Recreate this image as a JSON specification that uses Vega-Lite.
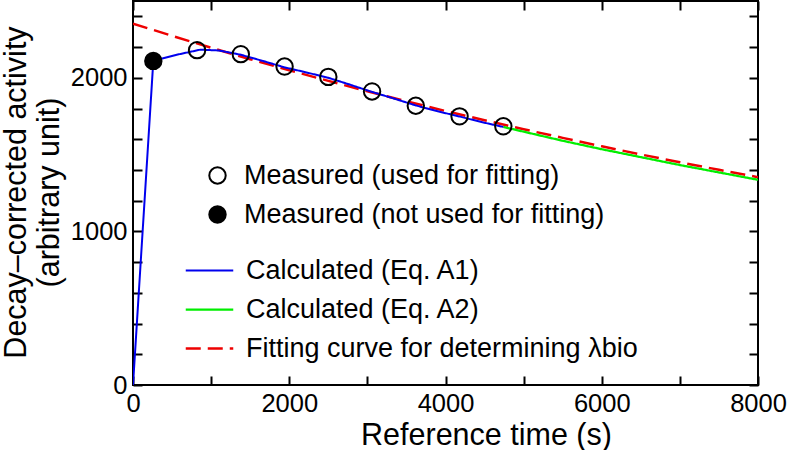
{
  "$schema": "https://vega.github.io/schema/vega-lite/v6.json",
  "width": 625,
  "height": 384,
  "autosize": "none",
  "padding": {"left": 133, "top": 1, "right": 29, "bottom": 65},
  "background": "white",
  "config": {
    "font": "Liberation Sans",
    "view": {"stroke": "black", "strokeWidth": 2},
    "axis": {
      "domain": false,
      "ticks": false,
      "tickSize": 0,
      "grid": true,
      "gridColor": "black",
      "gridOpacity": 1,
      "gridWidth": 2,
      "labelColor": "black",
      "labelFontSize": 25.5,
      "titleColor": "black",
      "titleFontSize": 30.5,
      "titleFontWeight": "normal"
    },
    "legend": {
      "orient": "none",
      "padding": 0,
      "labelFont": "Liberation Sans",
      "labelFontSize": 27,
      "labelColor": "black",
      "labelLimit": 600,
      "rowPadding": 11
    }
  },
  "datasets": {
    "curves": [
      {"t": 0, "v": 2353, "series": "Fitting curve for determining λbio"},
      {"t": 500, "v": 2273, "series": "Fitting curve for determining λbio"},
      {"t": 1000, "v": 2196, "series": "Fitting curve for determining λbio"},
      {"t": 1500, "v": 2121, "series": "Fitting curve for determining λbio"},
      {"t": 2000, "v": 2049, "series": "Fitting curve for determining λbio"},
      {"t": 2500, "v": 1980, "series": "Fitting curve for determining λbio"},
      {"t": 3000, "v": 1912, "series": "Fitting curve for determining λbio"},
      {"t": 3500, "v": 1847, "series": "Fitting curve for determining λbio"},
      {"t": 4000, "v": 1784, "series": "Fitting curve for determining λbio"},
      {"t": 4500, "v": 1724, "series": "Fitting curve for determining λbio"},
      {"t": 5000, "v": 1665, "series": "Fitting curve for determining λbio"},
      {"t": 5500, "v": 1609, "series": "Fitting curve for determining λbio"},
      {"t": 6000, "v": 1554, "series": "Fitting curve for determining λbio"},
      {"t": 6500, "v": 1501, "series": "Fitting curve for determining λbio"},
      {"t": 7000, "v": 1450, "series": "Fitting curve for determining λbio"},
      {"t": 7500, "v": 1401, "series": "Fitting curve for determining λbio"},
      {"t": 8000, "v": 1353, "series": "Fitting curve for determining λbio"},
      {"t": 4740, "v": 1680, "series": "Calculated (Eq. A2)"},
      {"t": 5500, "v": 1590, "series": "Calculated (Eq. A2)"},
      {"t": 6000, "v": 1535, "series": "Calculated (Eq. A2)"},
      {"t": 7000, "v": 1432, "series": "Calculated (Eq. A2)"},
      {"t": 8000, "v": 1336, "series": "Calculated (Eq. A2)"},
      {"t": 0, "v": 0, "series": "Calculated (Eq. A1)"},
      {"t": 260, "v": 2110, "series": "Calculated (Eq. A1)"},
      {"t": 560, "v": 2150, "series": "Calculated (Eq. A1)"},
      {"t": 860, "v": 2183, "series": "Calculated (Eq. A1)"},
      {"t": 1100, "v": 2178, "series": "Calculated (Eq. A1)"},
      {"t": 1380, "v": 2150, "series": "Calculated (Eq. A1)"},
      {"t": 1660, "v": 2110, "series": "Calculated (Eq. A1)"},
      {"t": 1940, "v": 2068, "series": "Calculated (Eq. A1)"},
      {"t": 2220, "v": 2035, "series": "Calculated (Eq. A1)"},
      {"t": 2500, "v": 2000, "series": "Calculated (Eq. A1)"},
      {"t": 2780, "v": 1955, "series": "Calculated (Eq. A1)"},
      {"t": 3060, "v": 1908, "series": "Calculated (Eq. A1)"},
      {"t": 3340, "v": 1865, "series": "Calculated (Eq. A1)"},
      {"t": 3620, "v": 1820, "series": "Calculated (Eq. A1)"},
      {"t": 3900, "v": 1782, "series": "Calculated (Eq. A1)"},
      {"t": 4180, "v": 1748, "series": "Calculated (Eq. A1)"},
      {"t": 4460, "v": 1712, "series": "Calculated (Eq. A1)"},
      {"t": 4740, "v": 1680, "series": "Calculated (Eq. A1)"}
    ],
    "measured": [
      {"t": 260, "v": 2110, "kind": "Measured (not used for fitting)"},
      {"t": 820, "v": 2180, "kind": "Measured (used for fitting)"},
      {"t": 1380, "v": 2154, "kind": "Measured (used for fitting)"},
      {"t": 1940, "v": 2073, "kind": "Measured (used for fitting)"},
      {"t": 2500, "v": 2006, "kind": "Measured (used for fitting)"},
      {"t": 3060, "v": 1911, "kind": "Measured (used for fitting)"},
      {"t": 3620, "v": 1818, "kind": "Measured (used for fitting)"},
      {"t": 4180, "v": 1749, "kind": "Measured (used for fitting)"},
      {"t": 4740, "v": 1684, "kind": "Measured (used for fitting)"}
    ]
  },
  "encoding": {
    "x": {
      "field": "t",
      "type": "quantitative",
      "scale": {"domain": [0, 8000], "nice": false},
      "axis": {
        "values": [0, 1000, 2000, 3000, 4000, 5000, 6000, 7000, 8000],
        "gridDash": [9, 366, 9, 1000],
        "labelExpr": "datum.value % 2000 == 0 ? format(datum.value, 'd') : ''",
        "labelPadding": 6,
        "labelFlush": false,
        "title": "Reference time (s)",
        "titleX": 353,
        "titleY": 59,
        "titleBaseline": "alphabetic",
        "titleAnchor": "middle"
      }
    },
    "y": {
      "field": "v",
      "type": "quantitative",
      "scale": {"domain": [0, 2500], "nice": false},
      "axis": {
        "values": [0, 200, 400, 600, 800, 1000, 1200, 1400, 1600, 1800, 2000, 2200, 2400],
        "gridDash": [9, 607, 9, 1000],
        "labelExpr": "datum.value % 1000 == 0 ? format(datum.value, 'd') : ''",
        "labelPadding": 6,
        "labelFlush": false,
        "title": ["Decay–corrected activity", "(arbitrary unit)"],
        "titleAngle": -90,
        "titleX": -108,
        "titleY": 191,
        "titleAlign": "center",
        "titleBaseline": "alphabetic",
        "titleLineHeight": 33
      }
    }
  },
  "layer": [
    {
      "data": {"name": "curves"},
      "mark": {"type": "line", "clip": true},
      "encoding": {
        "stroke": {
          "field": "series",
          "type": "nominal",
          "scale": {
            "domain": ["Calculated (Eq. A1)", "Calculated (Eq. A2)", "Fitting curve for determining λbio"],
            "range": ["#0000ee", "#00ee00", "#ee0000"]
          },
          "legend": {
            "title": null,
            "legendX": 63,
            "legendY": 256,
            "symbolType": "M-2.5,0H2.5",
            "symbolSize": 361,
            "labelOffset": 23
          }
        },
        "strokeDash": {
          "field": "series",
          "type": "nominal",
          "scale": {
            "domain": ["Calculated (Eq. A1)", "Calculated (Eq. A2)", "Fitting curve for determining λbio"],
            "range": [[1, 0], [1, 0], [15, 7]]
          },
          "legend": {
            "title": null,
            "legendX": 63,
            "legendY": 256,
            "symbolType": "M-2.5,0H2.5",
            "symbolSize": 361,
            "labelOffset": 23
          }
        },
        "strokeWidth": {
          "field": "series",
          "type": "nominal",
          "scale": {
            "domain": ["Calculated (Eq. A1)", "Calculated (Eq. A2)", "Fitting curve for determining λbio"],
            "range": [2, 2.5, 4]
          },
          "legend": {
            "title": null,
            "legendX": 63,
            "legendY": 256,
            "symbolType": "M-2.5,0H2.5",
            "symbolSize": 361,
            "labelOffset": 23
          }
        }
      }
    },
    {
      "data": {"name": "measured"},
      "mark": {"type": "point", "shape": "circle", "size": 270, "stroke": "black", "strokeWidth": 2, "opacity": 1},
      "encoding": {
        "fill": {
          "field": "kind",
          "type": "nominal",
          "scale": {
            "domain": ["Measured (used for fitting)", "Measured (not used for fitting)"],
            "range": ["transparent", "black"]
          },
          "legend": {
            "title": null,
            "legendX": 71,
            "legendY": 161,
            "symbolType": "circle",
            "symbolSize": 270,
            "symbolStrokeColor": "black",
            "symbolStrokeWidth": 2,
            "labelOffset": 13
          }
        }
      }
    }
  ]
}
